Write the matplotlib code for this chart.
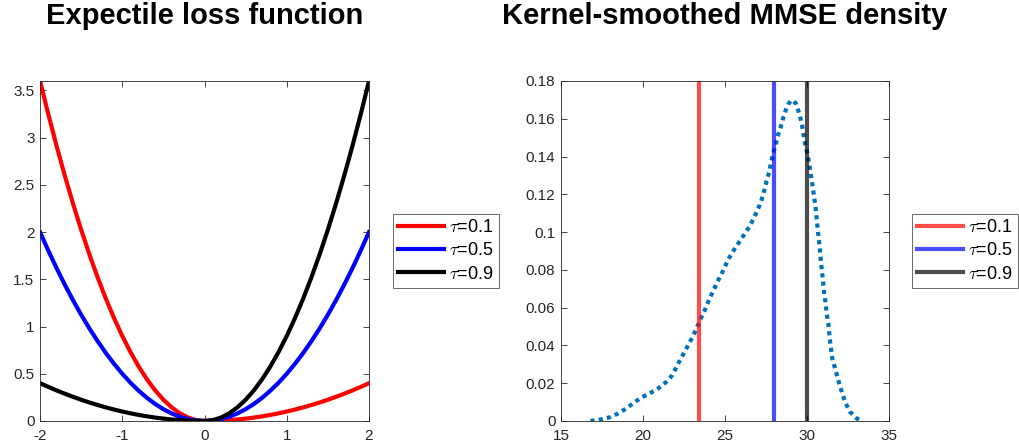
import numpy as np
import matplotlib.pyplot as plt

plt.rcParams['font.family'] = ['Liberation Sans', 'DejaVu Sans']
plt.rcParams['mathtext.fontset'] = 'cm'
plt.rcParams['axes.unicode_minus'] = False

# expectile loss
u = [-2.0, -1.9, -1.8, -1.7, -1.6, -1.5, -1.4, -1.3, -1.2, -1.1, -1.0,
     -0.9, -0.8, -0.7, -0.6, -0.5, -0.4, -0.3, -0.2, -0.1, 0.0,
     0.1, 0.2, 0.3, 0.4, 0.5, 0.6, 0.7, 0.8, 0.9, 1.0,
     1.1, 1.2, 1.3, 1.4, 1.5, 1.6, 1.7, 1.8, 1.9, 2.0]
loss_01 = [3.6, 3.249, 2.916, 2.601, 2.304, 2.025, 1.764, 1.521, 1.296, 1.089, 0.9,
           0.729, 0.576, 0.441, 0.324, 0.225, 0.144, 0.081, 0.036, 0.009, 0.0,
           0.001, 0.004, 0.009, 0.016, 0.025, 0.036, 0.049, 0.064, 0.081, 0.1,
           0.121, 0.144, 0.169, 0.196, 0.225, 0.256, 0.289, 0.324, 0.361, 0.4]
loss_05 = [2.0, 1.805, 1.62, 1.445, 1.28, 1.125, 0.98, 0.845, 0.72, 0.605, 0.5,
           0.405, 0.32, 0.245, 0.18, 0.125, 0.08, 0.045, 0.02, 0.005, 0.0,
           0.005, 0.02, 0.045, 0.08, 0.125, 0.18, 0.245, 0.32, 0.405, 0.5,
           0.605, 0.72, 0.845, 0.98, 1.125, 1.28, 1.445, 1.62, 1.805, 2.0]
loss_09 = [0.4, 0.361, 0.324, 0.289, 0.256, 0.225, 0.196, 0.169, 0.144, 0.121, 0.1,
           0.081, 0.064, 0.049, 0.036, 0.025, 0.016, 0.009, 0.004, 0.001, 0.0,
           0.009, 0.036, 0.081, 0.144, 0.225, 0.324, 0.441, 0.576, 0.729, 0.9,
           1.089, 1.296, 1.521, 1.764, 2.025, 2.304, 2.601, 2.916, 3.249, 3.6]

# kernel density of MMSE
mmse_x = [16.8, 17.48, 17.99, 18.49, 19.0, 19.45, 19.92, 20.43, 20.93, 21.4, 21.79,
          22.05, 22.32, 22.6, 22.87, 23.13, 23.58, 23.82, 24.04, 24.29, 24.53, 24.8,
          25.04, 25.3, 25.61, 25.91, 26.22, 26.52, 26.79, 27.03, 27.24, 27.4, 27.54,
          27.7, 27.8, 27.95, 28.11, 28.25, 28.41, 28.56, 28.72, 28.85, 29.0, 29.15,
          29.33, 29.53, 29.68, 29.78, 29.88, 30.02, 30.14, 30.24, 30.35, 30.45, 30.53,
          30.59, 30.65, 30.73, 30.79, 30.85, 30.93, 30.99, 31.05, 31.14, 31.2, 31.3,
          31.4, 31.54, 31.71, 31.85, 32.01, 32.18, 32.36, 32.62, 33.03, 33.3]
mmse_dens = [0.0, 0.0009, 0.002, 0.004, 0.0067, 0.0097, 0.0125, 0.0147, 0.0173, 0.0205,
             0.0243, 0.0287, 0.0332, 0.0376, 0.042, 0.0464, 0.0552, 0.0597, 0.0644,
             0.069, 0.0734, 0.0781, 0.0825, 0.087, 0.0914, 0.0953, 0.0993, 0.1033,
             0.108, 0.1125, 0.1173, 0.1222, 0.1271, 0.1319, 0.1366, 0.142, 0.1469,
             0.1517, 0.156, 0.1607, 0.1649, 0.1676, 0.1693, 0.1698, 0.168, 0.1628,
             0.1575, 0.1522, 0.1469, 0.1416, 0.1363, 0.1301, 0.124, 0.1178, 0.1125,
             0.1072, 0.1019, 0.0958, 0.0905, 0.0843, 0.0781, 0.0729, 0.0676, 0.0623,
             0.057, 0.0517, 0.0429, 0.0332, 0.0279, 0.0235, 0.0185, 0.0138, 0.0094,
             0.0049, 0.0014, 0.0]
tau_labels = [r'$\tau$=0.1', r'$\tau$=0.5', r'$\tau$=0.9']
expectiles = [23.4, 28.0, 30.0]

tick_col = (0.15, 0.15, 0.15)

fig = plt.figure(figsize=(10.19, 4.46), dpi=100)
ax1 = fig.add_axes([0.0393, 0.0561, 0.3228, 0.7623])
ax2 = fig.add_axes([0.5505, 0.0561, 0.3219, 0.7623])

def style(ax):
    ax.tick_params(direction='in', top=True, right=True, labelsize=11,
                   colors=tick_col, length=4, width=0.6)
    ax.tick_params(axis='x', pad=6)
    ax.tick_params(axis='y', pad=4)
    for s in ax.spines.values():
        s.set_color(tick_col)
        s.set_linewidth(0.6)

def add_legend(ax, x0):
    leg = ax.legend(loc='center left', bbox_to_anchor=(x0, 0.5), borderaxespad=0,
                    fancybox=False, edgecolor=tick_col, fontsize=13, handlelength=2.55,
                    handletextpad=0.25, borderpad=0.3, labelspacing=0.35)
    leg.get_frame().set_linewidth(0.6)
    return leg

ax1.plot(u, loss_01, color='red', lw=3, label=tau_labels[0])
ax1.plot(u, loss_05, color='blue', lw=3, label=tau_labels[1])
ax1.plot(u, loss_09, color='black', lw=3, label=tau_labels[2])
ax1.set_xlim(-2, 2)
ax1.set_ylim(0, 3.6)
ax1.set_xticks([-2, -1, 0, 1, 2])
ax1.set_yticks(np.arange(0, 3.51, 0.5))
ax1.set_yticklabels(['0', '0.5', '1', '1.5', '2', '2.5', '3', '3.5'])
style(ax1)
ax1.set_title('Expectile loss function', fontsize=21, fontweight='bold', pad=41)
add_legend(ax1, 1.073)

ax2.plot(mmse_x, mmse_dens, color=(0, 0.447, 0.741), lw=3, linestyle=(0, (1, 1)))
line_cols = ['red', 'blue', 'black']
for xv, c, lab in zip(expectiles, line_cols, tau_labels):
    ax2.axvline(xv, color=c, alpha=0.7, lw=3, label=lab)
ax2.set_xlim(15, 35)
ax2.set_ylim(0, 0.18)
ax2.set_xticks([15, 20, 25, 30, 35])
ax2.set_yticks(np.arange(0, 0.181, 0.02))
ax2.set_yticklabels(['0', '0.02', '0.04', '0.06', '0.08', '0.1', '0.12', '0.14', '0.16', '0.18'])
style(ax2)
ax2.set_title('Kernel-smoothed MMSE density', fontsize=21, fontweight='bold', pad=41)
add_legend(ax2, 1.070)

fig.savefig('out.png', dpi=100)
